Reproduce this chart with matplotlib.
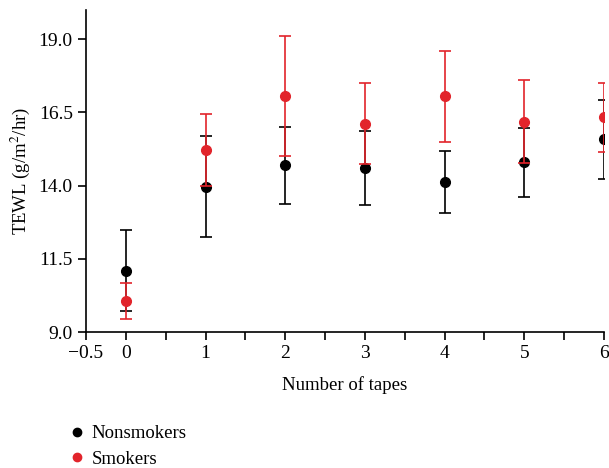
import matplotlib
matplotlib.use("Agg")
import matplotlib.pyplot as plt
from matplotlib.lines import Line2D

plt.rcParams['font.family'] = ['Liberation Serif', 'DejaVu Serif']
plt.rcParams['mathtext.fontset'] = 'stix'

tapes = [0, 1, 2, 3, 4, 5, 6]
nonsmokers = [11.1, 13.96, 14.69, 14.60, 14.12, 14.80, 15.58]
nonsmokers_err = [1.37, 1.73, 1.32, 1.26, 1.07, 1.18, 1.35]
smokers = [10.07, 15.21, 17.05, 16.12, 17.05, 16.19, 16.34]
smokers_err = [0.62, 1.23, 2.05, 1.38, 1.56, 1.42, 1.18]

yticks = [9.0, 11.5, 14.0, 16.5, 19.0]
xticks = [-0.5, 0, 1, 2, 3, 4, 5, 6]

red = '#e2242b'

fig = plt.figure(figsize=(6.09, 4.68), dpi=100)
ax = fig.add_axes([86 / 609, 1 - 332 / 468, 518 / 609, 322 / 468])

ax.errorbar(tapes, nonsmokers, yerr=nonsmokers_err, fmt='o', color='black',
            ecolor='black', elinewidth=1.2, capsize=4, capthick=1.2, markersize=7, zorder=2)
ax.errorbar(tapes, smokers, yerr=smokers_err, fmt='o', color=red,
            ecolor=red, elinewidth=1.2, capsize=4, capthick=1.2, markersize=7, zorder=3)

ax.set_xlim(-0.5, 6)
ax.set_ylim(9, 20)
ax.set_yticks(yticks)
ax.set_yticklabels([f"{v:.1f}" for v in yticks])
ax.set_xticks(xticks)
ax.set_xticklabels(['\u22120.5', '0', '1', '2', '3', '4', '5', '6'])
ax.set_xticks([0.5, 1.5, 2.5, 3.5, 4.5, 5.5], minor=True)
ax.tick_params(which='both', direction='out', length=6, width=1.2, labelsize=14)

for s in ['top', 'right']:
    ax.spines[s].set_visible(False)
for s in ['left', 'bottom']:
    ax.spines[s].set_linewidth(1.2)

ax.set_xlabel('Number of tapes', fontsize=13.5, labelpad=10)
ax.set_ylabel('TEWL (g/m$^2$/hr)', fontsize=13.5, labelpad=5)

handles = [
    Line2D([], [], marker='o', linestyle='none', color='black', markersize=6),
    Line2D([], [], marker='o', linestyle='none', color=red, markersize=6),
]
fig.legend(handles, ['Nonsmokers', 'Smokers'], loc='upper left',
           bbox_to_anchor=(56 / 609, 1 - 416 / 468), frameon=False, fontsize=13.5,
           handletextpad=0.2, labelspacing=0.42, borderpad=0, handlelength=1.2)

fig.savefig('out.png', dpi=100)
